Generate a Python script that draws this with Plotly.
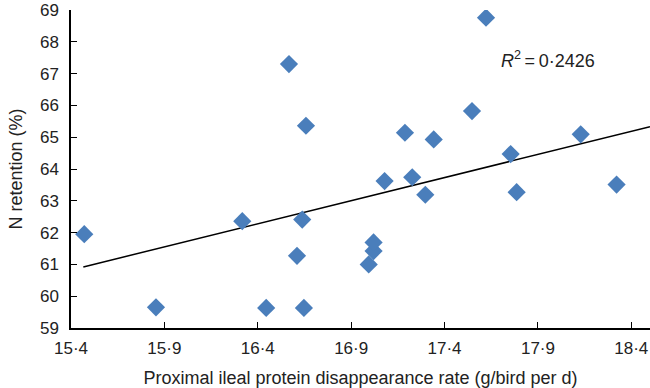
import plotly.graph_objects as go

x_rate = [15.471, 15.855, 16.317, 16.445, 16.61, 16.638, 16.647, 16.567, 16.658,
          16.994, 17.02, 17.02, 17.079, 17.227, 17.297, 17.786, 18.321,
          17.622, 17.547, 17.188, 17.342, 18.129, 17.754]
n_ret = [61.95, 59.65, 62.36, 59.63, 61.27, 62.41, 59.63, 67.30, 65.36,
         61.0, 61.42, 61.69, 63.62, 63.74, 63.19, 63.27, 63.51,
         68.76, 65.82, 65.14, 64.93, 65.09, 64.47]
trend_x = [15.466, 18.5]
trend_y = [60.92, 65.33]
x_ticks = [15.4, 15.9, 16.4, 16.9, 17.4, 17.9, 18.4]
x_ticklabels = ["15·4", "15·9", "16·4", "16·9", "17·4", "17·9", "18·4"]
y_ticks = list(range(59, 70))
r2_text = "<i>R</i><sup>2</sup>\u2009=\u20090·2426"

fig = go.Figure()
fig.add_trace(go.Scatter(x=trend_x, y=trend_y, mode="lines",
                         line=dict(color="black", width=1.5), hoverinfo="skip"))
fig.add_trace(go.Scatter(x=x_rate, y=n_ret, mode="markers",
                         marker=dict(symbol="diamond", size=14, color="#4A7EBB",
                                     line=dict(width=0))))
font = "Liberation Sans, Arial, sans-serif"
fig.update_layout(
    width=650, height=388, showlegend=False,
    plot_bgcolor="white", paper_bgcolor="white",
    margin=dict(l=71, r=0, t=10, b=60),
    font=dict(family=font, size=17, color="#222"),
    xaxis=dict(range=[15.4, 18.5], tickvals=x_ticks, ticktext=x_ticklabels,
               showgrid=False, zeroline=False, showline=True, linecolor="black",
               linewidth=1.5, ticks="inside", ticklen=6, tickcolor="black",
               ticklabelstandoff=4, automargin=False,
               tickfont=dict(size=17),
               title=dict(text="Proximal ileal protein disappearance rate (g/bird per d)",
                          standoff=18, font=dict(size=18))),
    yaxis=dict(range=[59, 69], tickvals=y_ticks, showgrid=False, zeroline=False,
               showline=True, linecolor="black", linewidth=1.5, ticks="inside",
               ticklen=6, tickcolor="black", ticklabelstandoff=7, automargin=False,
               tickfont=dict(size=17),
               title=dict(text="N retention (%)", standoff=13, font=dict(size=18))),
    annotations=[dict(x=17.69, y=67.43, xref="x", yref="y", text=r2_text,
                      showarrow=False, xanchor="left", yanchor="middle",
                      font=dict(size=18, family=font, color="#222"))],
)
fig.write_html("out.html", config={"displayModeBar": False},
               post_script="document.body.style.margin='0';")
